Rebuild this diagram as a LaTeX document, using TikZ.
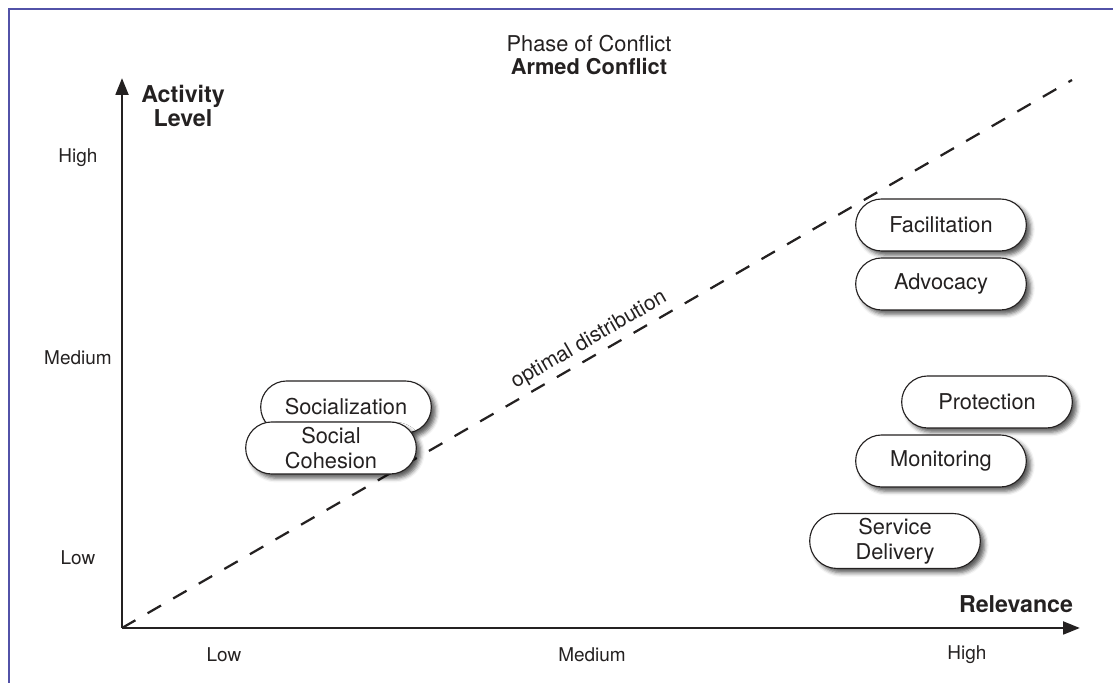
\documentclass[tikz,border=0pt]{standalone}
\usepackage{fontspec}
\setmainfont{TeX Gyre Heros}
\usetikzlibrary{arrows.meta,shapes.misc,shadows,shadows.blur,positioning}
\definecolor{framecol}{rgb}{0.32,0.32,0.66}
\definecolor{inkgray}{rgb}{0.14,0.13,0.13}
\tikzstyle{axis}=[line width=2pt,draw=inkgray,-{Triangle[length=12pt,width=9pt]}]
\tikzstyle{optimal}=[draw=inkgray,dash pattern=on 11pt off 10pt,line width=1.6pt]
\tikzstyle{tick}=[font=\fontsize{13.5}{15}\selectfont,text=inkgray]
\tikzstyle{axislabel}=[font=\fontsize{16.5}{17.5}\selectfont\bfseries,text=inkgray,align=center]
\tikzstyle{heading}=[font=\fontsize{15.5}{17}\selectfont,text=inkgray,inner sep=1pt]
\tikzstyle{activity}=[rounded rectangle,draw=inkgray,line width=0.8pt,fill=white,
                minimum width=4.5cm,minimum height=1.3cm,align=center,
                font=\fontsize{15.5}{17.5}\selectfont,text=inkgray,
                blur shadow={shadow xshift=3pt,shadow yshift=-3pt,
                shadow blur radius=3pt,shadow opacity=65}]

\begin{document}
\begin{tikzpicture}[x=0.025cm,y=0.025cm]
\useasboundingbox (0,0) rectangle (1113,683);

% % % % % % % % % % % % % % %

\draw[framecol,line width=1pt] (1113,674) -- (9,674) -- (9,0);

\coordinate (O) at (122,55);
\coordinate (Ytip) at (122,605);
\coordinate (Xtip) at (1080,55);
\coordinate (Dend) at (1072,603);

\draw[optimal] (O) -- node[sloped,above,font=\fontsize{15}{17}\selectfont,text=inkgray] (optlabel) {optimal distribution} (Dend);
\draw[axis] (O) -- (Ytip);
\draw[axis] (O) -- (Xtip);

\foreach \y/\t in {525/High,325/Medium,125/Low} {
\node[tick] (y\t) at (78,\y) {\t};
}
\foreach \x/\t in {224/Low,592/Medium,967/High} {
\node[tick] (x\t) at (\x,28) {\t};
}

\node[axislabel] (activity) at (183,577) {Activity\\Level};
\node[axislabel] (relevance) at (1016,79) {Relevance};

\node[heading] (phase) at (589,639) {Phase of Conflict};
\node[heading,font=\fontsize{15.5}{17}\selectfont\bfseries,below=2pt of phase] (armed) {Armed Conflict};

\node[activity] (facilitation) at (941,458) {Facilitation};
\node[activity] (advocacy) at (941,399) {Advocacy};
\node[activity] (protection) at (987,281) {Protection};
\node[activity] (monitoring) at (941,222) {Monitoring};
\node[activity] (service) at (895,142) {Service\\Delivery};
\node[activity] (socialization) at (346,276) {Socialization};
\node[activity] (cohesion) at (331,235) {Social\\Cohesion};

\end{tikzpicture}
\end{document}
